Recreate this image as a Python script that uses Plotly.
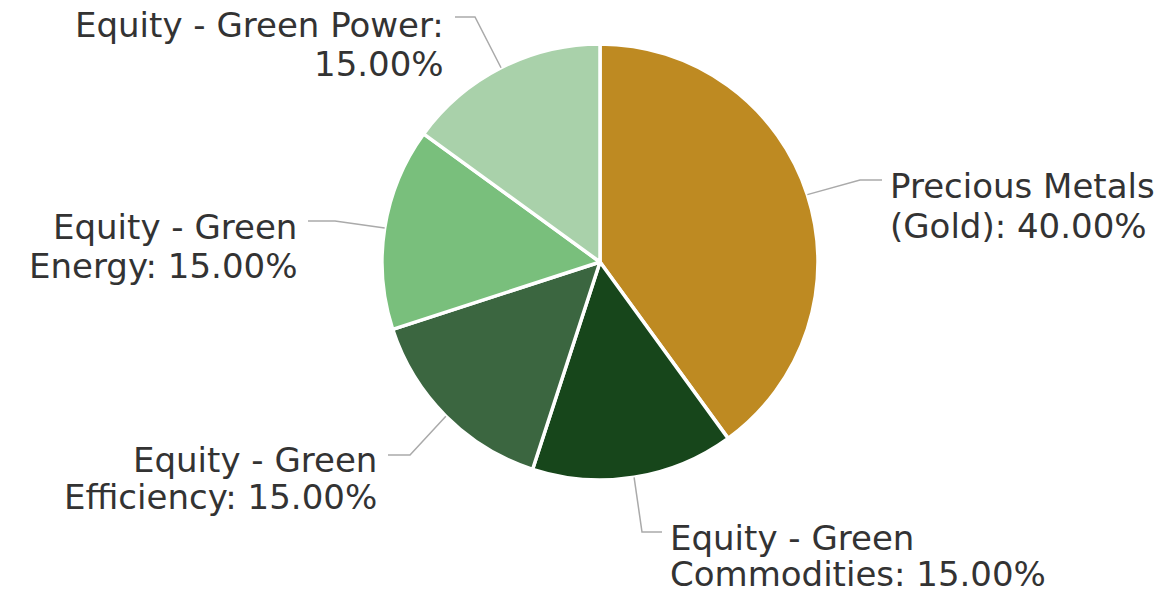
import math
import plotly.graph_objects as go

# ---- data ----
categories = [
    "Precious Metals (Gold)",
    "Equity - Green Commodities",
    "Equity - Green Efficiency",
    "Equity - Green Energy",
    "Equity - Green Power",
]
values = [40.0, 15.0, 15.0, 15.0, 15.0]
label_line1 = [
    "Precious Metals",
    "Equity - Green",
    "Equity - Green",
    "Equity - Green",
    "Equity - Green Power:",
]
label_line2 = [
    "(Gold): 40.00%",
    "Commodities: 15.00%",
    "Efficiency: 15.00%",
    "Energy: 15.00%",
    "15.00%",
]
colors = ["#BE8A22", "#17461B", "#3B6640", "#79BF7C", "#A9D1AA"]

# ---- layout (screen pixel space) ----
W, H = 1166, 596
CX, CY, R = 600, 262, 218
FONT = "DejaVu Sans"
FS = 34

# per-label placement: (text x, line1 y, line2 y, side, elbow x, connector y)
label_pos = [
    (888, 186, 226, "left", 860, 180),
    (668, 538, 574, "left", 642, 532),
    (379, 460, 497, "right", 410, 455),
    (299, 227, 266, "right", 335, 221),
    (446, 25, 64, "right", 475, 17),
]


def px(x):
    return x / W


def py(y):
    return 1 - y / H


fig = go.Figure(
    go.Pie(
        labels=categories,
        values=values,
        sort=False,
        direction="clockwise",
        rotation=0,
        textinfo="none",
        hoverinfo="label+percent",
        marker=dict(colors=colors, line=dict(color="white", width=3.5)),
        domain=dict(x=[px(CX - R), px(CX + R)], y=[py(CY + R), py(CY - R)]),
        showlegend=False,
    )
)

total = sum(values)
cum = 0.0
shapes = []
annotations = []
for i, v in enumerate(values):
    mid = (cum + v / 2) / total * 2 * math.pi
    cum += v
    ex = CX + R * math.sin(mid)
    ey = CY - R * math.cos(mid)
    tx, y1, y2, side, elx, ly = label_pos[i]
    endx = tx - 6 if side == "left" else tx + 9
    path = f"M {px(ex)} {py(ey)} L {px(elx)} {py(ly)} L {px(endx)} {py(ly)}"
    shapes.append(
        dict(
            type="path",
            xref="paper",
            yref="paper",
            path=path,
            line=dict(color="#AAAAAA", width=1.5),
        )
    )
    for txt, yy in ((label_line1[i], y1), (label_line2[i], y2)):
        annotations.append(
            dict(
                x=px(tx),
                y=py(yy),
                xref="paper",
                yref="paper",
                text=txt,
                showarrow=False,
                xanchor="left" if side == "left" else "right",
                yanchor="middle",
                align="left" if side == "left" else "right",
                font=dict(family=FONT, size=FS, color="#333333"),
            )
        )

fig.update_layout(
    width=W,
    height=H,
    margin=dict(l=0, r=0, t=0, b=0),
    paper_bgcolor="white",
    plot_bgcolor="white",
    shapes=shapes,
    annotations=annotations,
)

fig.write_html(
    "out.html",
    config={"displayModeBar": False},
    post_script="document.body.style.margin='0';document.body.style.overflow='hidden';",
)
